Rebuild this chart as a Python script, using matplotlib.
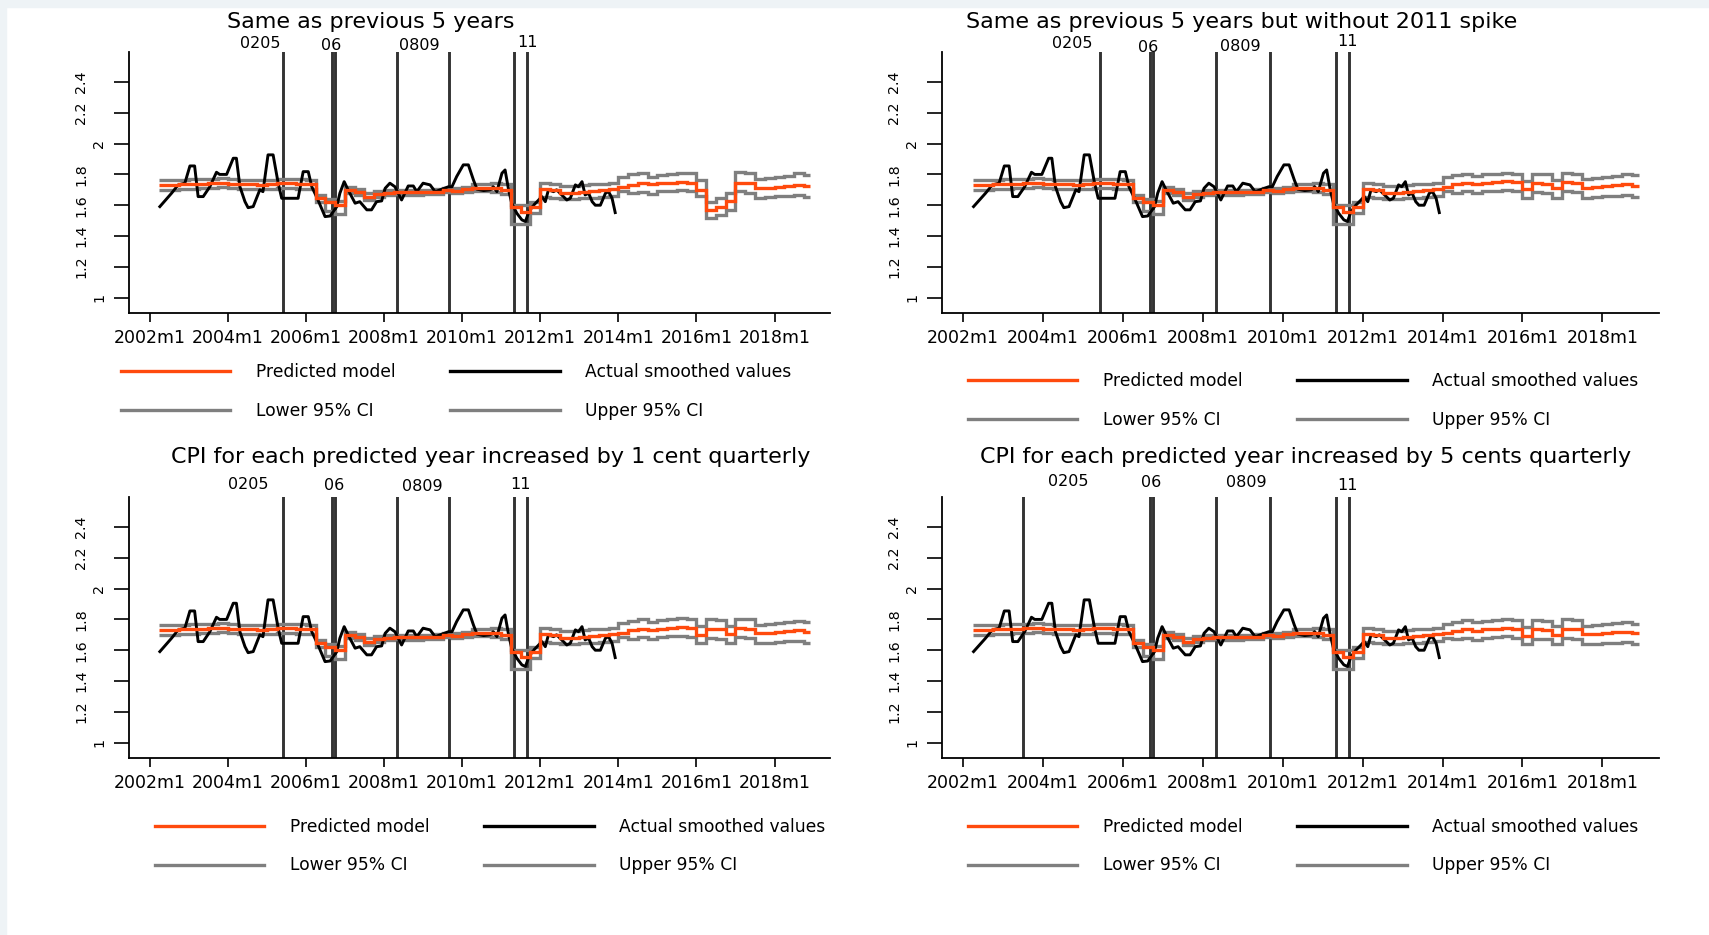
import numpy as np
import matplotlib
matplotlib.use("Agg")
import matplotlib.pyplot as plt
from matplotlib.transforms import offset_copy
from matplotlib.lines import Line2D
from matplotlib.patches import Rectangle

# quarterly grid of the fitted / forecast series (2002q2 .. 2018q4), series end 2018m12
q_start = np.arange(2002.25, 2019.0, 0.25)
q_edges = np.append(q_start, 2018.92)

# in-sample fit, same in all four panels
pred_fit = [1.732, 1.732, 1.735, 1.738, 1.740, 1.742, 1.747, 1.740, 1.735, 1.735, 1.733, 1.735,
            1.742, 1.742, 1.738, 1.735, 1.644, 1.623, 1.600, 1.700, 1.688, 1.656, 1.673, 1.682,
            1.688, 1.684, 1.684, 1.686, 1.688, 1.700, 1.695, 1.703, 1.710, 1.710, 1.710, 1.700,
            1.591, 1.558, 1.590, 1.704, 1.700, 1.680, 1.678, 1.688, 1.695, 1.700, 1.704]
hi_fit = [1.762, 1.762, 1.765, 1.768, 1.770, 1.772, 1.777, 1.770, 1.765, 1.765, 1.763, 1.765,
          1.772, 1.772, 1.768, 1.765, 1.667, 1.639, 1.630, 1.721, 1.705, 1.678, 1.690, 1.698,
          1.702, 1.699, 1.699, 1.701, 1.703, 1.715, 1.712, 1.720, 1.735, 1.738, 1.743, 1.735,
          1.600, 1.600, 1.623, 1.747, 1.740, 1.725, 1.725, 1.732, 1.738, 1.740, 1.743]
lo_fit = [1.702, 1.702, 1.705, 1.708, 1.710, 1.712, 1.717, 1.710, 1.705, 1.705, 1.703, 1.705,
          1.712, 1.712, 1.708, 1.705, 1.623, 1.560, 1.545, 1.678, 1.668, 1.634, 1.655, 1.665,
          1.672, 1.669, 1.669, 1.671, 1.673, 1.685, 1.680, 1.686, 1.690, 1.690, 1.685, 1.672,
          1.480, 1.480, 1.550, 1.655, 1.650, 1.640, 1.638, 1.645, 1.650, 1.655, 1.660]

# forecasts 2014q1 .. 2018q4, one set per scenario
pred_fc = [
    [1.720, 1.732, 1.742, 1.738, 1.742, 1.747, 1.751, 1.747, 1.700, 1.569,
     1.591, 1.625, 1.747, 1.742, 1.710, 1.714, 1.720, 1.725, 1.732, 1.725],
    [1.720, 1.735, 1.745, 1.735, 1.745, 1.750, 1.755, 1.750, 1.705, 1.745,
     1.740, 1.710, 1.750, 1.745, 1.715, 1.720, 1.725, 1.730, 1.735, 1.725],
    [1.715, 1.730, 1.740, 1.730, 1.740, 1.745, 1.750, 1.745, 1.700, 1.740,
     1.735, 1.705, 1.745, 1.740, 1.710, 1.715, 1.720, 1.725, 1.730, 1.720],
    [1.710, 1.725, 1.735, 1.725, 1.735, 1.740, 1.745, 1.740, 1.695, 1.735,
     1.730, 1.700, 1.740, 1.735, 1.705, 1.708, 1.712, 1.716, 1.720, 1.710],
]
hi_fc = [
    [1.786, 1.801, 1.808, 1.782, 1.797, 1.801, 1.812, 1.808, 1.764, 1.623,
     1.645, 1.678, 1.814, 1.808, 1.769, 1.775, 1.786, 1.792, 1.808, 1.797],
    [1.780, 1.795, 1.805, 1.790, 1.800, 1.805, 1.812, 1.805, 1.760, 1.805,
     1.800, 1.765, 1.810, 1.805, 1.770, 1.778, 1.785, 1.790, 1.800, 1.795],
    [1.775, 1.790, 1.800, 1.785, 1.795, 1.800, 1.808, 1.800, 1.755, 1.800,
     1.795, 1.760, 1.805, 1.800, 1.765, 1.772, 1.778, 1.784, 1.792, 1.786],
    [1.770, 1.785, 1.795, 1.780, 1.790, 1.795, 1.802, 1.795, 1.750, 1.795,
     1.790, 1.755, 1.800, 1.795, 1.760, 1.765, 1.770, 1.776, 1.780, 1.771],
]
lo_fc = [
    [1.690, 1.680, 1.685, 1.675, 1.690, 1.695, 1.700, 1.690, 1.660, 1.515,
     1.537, 1.569, 1.690, 1.680, 1.650, 1.655, 1.660, 1.662, 1.665, 1.655],
    [1.690, 1.680, 1.690, 1.678, 1.690, 1.695, 1.700, 1.690, 1.650, 1.685,
     1.680, 1.650, 1.690, 1.685, 1.650, 1.655, 1.658, 1.662, 1.665, 1.655],
    [1.685, 1.675, 1.685, 1.673, 1.685, 1.690, 1.695, 1.685, 1.645, 1.680,
     1.675, 1.645, 1.685, 1.680, 1.645, 1.650, 1.653, 1.657, 1.660, 1.650],
    [1.680, 1.670, 1.680, 1.668, 1.680, 1.685, 1.690, 1.680, 1.640, 1.675,
     1.670, 1.640, 1.680, 1.675, 1.640, 1.643, 1.646, 1.650, 1.652, 1.640],
]

# actual smoothed CPI
act_t = [2002.26, 2002.56, 2002.73, 2002.90, 2003.03, 2003.15, 2003.24, 2003.37, 2003.54, 2003.71,
         2003.79, 2003.97, 2004.14, 2004.22, 2004.31, 2004.44, 2004.52, 2004.65, 2004.82, 2004.90,
         2005.03, 2005.16, 2005.29, 2005.38, 2005.63, 2005.80, 2005.93, 2006.06, 2006.15, 2006.30,
         2006.49, 2006.62, 2006.79, 2006.87, 2006.98, 2007.08, 2007.26, 2007.38, 2007.56, 2007.68,
         2007.81, 2007.94, 2008.03, 2008.15, 2008.28, 2008.45, 2008.62, 2008.75, 2008.84, 2009.00,
         2009.18, 2009.31, 2009.48, 2009.65, 2009.74, 2009.86, 2010.03, 2010.16, 2010.29, 2010.38,
         2010.55, 2010.72, 2010.80, 2010.89, 2011.02, 2011.10, 2011.19, 2011.27, 2011.40, 2011.53,
         2011.62, 2011.71, 2011.83, 2011.96, 2012.04, 2012.13, 2012.21, 2012.34, 2012.42, 2012.55,
         2012.68, 2012.77, 2012.90, 2012.98, 2013.07, 2013.15, 2013.24, 2013.33, 2013.41, 2013.54,
         2013.67, 2013.75, 2013.84, 2013.92]
act_v = [1.591, 1.678, 1.732, 1.743, 1.855, 1.855, 1.656, 1.656, 1.720, 1.814,
         1.800, 1.800, 1.905, 1.905, 1.720, 1.623, 1.584, 1.591, 1.700, 1.688,
         1.927, 1.927, 1.743, 1.645, 1.645, 1.645, 1.818, 1.818, 1.720, 1.640,
         1.526, 1.530, 1.590, 1.678, 1.753, 1.700, 1.613, 1.623, 1.570, 1.570,
         1.623, 1.628, 1.710, 1.743, 1.720, 1.634, 1.725, 1.725, 1.688, 1.743,
         1.732, 1.688, 1.704, 1.720, 1.720, 1.786, 1.862, 1.862, 1.764, 1.704,
         1.695, 1.700, 1.720, 1.688, 1.808, 1.829, 1.700, 1.613, 1.548, 1.505,
         1.494, 1.558, 1.600, 1.634, 1.656, 1.623, 1.700, 1.688, 1.700, 1.667,
         1.634, 1.645, 1.732, 1.720, 1.753, 1.667, 1.678, 1.623, 1.600, 1.600,
         1.678, 1.688, 1.645, 1.552]

# breaks marked by vertical lines
vlines = [
    [2005.42, 2006.67, 2006.75, 2008.33, 2009.67, 2011.33, 2011.67],
    [2005.42, 2006.67, 2006.75, 2008.33, 2009.67, 2011.33, 2011.67],
    [2005.42, 2006.67, 2006.75, 2008.33, 2009.67, 2011.33, 2011.67],
    [2003.50, 2006.67, 2006.75, 2008.33, 2009.67, 2011.33, 2011.67],
]
break_names = ["0205", "06", "0809", "11"]

titles = ["Same as previous 5 years",
          "Same as previous 5 years but without 2011 spike",
          "CPI for each predicted year increased by 1 cent quarterly",
          "CPI for each predicted year increased by 5 cents quarterly"]

xtick_years = list(range(2002, 2019, 2))
xtick_labels = [f"{y}m1" for y in xtick_years]
ytick_vals = [1, 1.2, 1.4, 1.6, 1.8, 2, 2.2, 2.4]
ytick_labels = ["1", "1.2", "1.4", "1.6", "1.8", "2", "2.2", "2.4"]

# ---- layout (pixels of the 1709x935 canvas) ----
W, H = 1709, 935
ax_px = [(129, 52, 830, 313), (942, 52, 1659, 313),
         (129, 497, 830, 758), (942, 497, 1659, 758)]
title_px = [(371, 22), (1242, 22), (491, 457), (1306, 457)]
leg_px = [(121, 374), (968, 383), (155, 829), (968, 829)]
break_pos = [
    [(2004.82, 2.647), (2006.64, 2.634), (2008.90, 2.634), (2011.67, 2.654)],
    [(2004.74, 2.647), (2006.64, 2.621), (2008.94, 2.628), (2011.62, 2.660)],
    [(2004.53, 2.674), (2006.73, 2.670), (2008.98, 2.660), (2011.49, 2.674)],
    [(2004.64, 2.694), (2006.71, 2.687), (2009.09, 2.687), (2011.61, 2.668)],
]

ORANGE = "#ff4a0d"
GRAY = "#7f7f7f"
VCOL = "#333333"

plt.rcParams["font.family"] = ["DejaVu Sans"]

fig = plt.figure(figsize=(W / 100, H / 100), dpi=100)
fig.patches.append(Rectangle((0, 1 - 7 / H), 1, 7 / H, transform=fig.transFigure,
                             color="#eef3f6", zorder=0))
fig.patches.append(Rectangle((0, 0), 6 / W, 1, transform=fig.transFigure,
                             color="#eef3f6", zorder=0))

for i in range(4):
    x0, y0, x1, y1 = ax_px[i]
    ax = fig.add_axes([x0 / W, 1 - y1 / H, (x1 - x0) / W, (y1 - y0) / H])
    ax.set_xlim(2001.47, 2019.42)
    ax.set_ylim(0.90, 2.595)

    pred = pred_fit + pred_fc[i]
    hi = hi_fit + hi_fc[i]
    lo = lo_fit + lo_fc[i]

    for xv in vlines[i]:
        ax.axvline(xv, color=VCOL, lw=2.1, zorder=1)
    ax.stairs(lo, q_edges, baseline=None, color=GRAY, lw=2.4, zorder=2)
    ax.stairs(hi, q_edges, baseline=None, color=GRAY, lw=2.4, zorder=2)
    ax.plot(act_t, act_v, color="black", lw=2.1, zorder=3)
    ax.stairs(pred, q_edges, baseline=None, color=ORANGE, lw=2.4, zorder=4)

    for s in ["top", "right"]:
        ax.spines[s].set_visible(False)
    for s in ["left", "bottom"]:
        ax.spines[s].set_linewidth(1.3)
    ax.set_xticks(xtick_years)
    ax.set_xticklabels(xtick_labels, fontsize=12.5)
    ax.tick_params(axis="x", length=6.5, width=1.2, pad=5)
    ax.set_yticks(ytick_vals)
    ax.tick_params(axis="y", length=10.5, width=1.2, labelleft=False)
    for v, lab in zip(ytick_vals, ytick_labels):
        dx = -30 if "." not in lab else -48
        tr = offset_copy(ax.get_yaxis_transform(), fig=fig, x=dx, y=0, units="dots")
        ax.text(0, v, lab, transform=tr, rotation=90, ha="center", va="center",
                fontsize=10.3, clip_on=False)

    for name, (bx, by) in zip(break_names, break_pos[i]):
        ax.text(bx, by, name, ha="center", va="center", fontsize=11.5, clip_on=False)

    lx, ly = leg_px[i]
    leg_h = [Line2D([], [], color=ORANGE, lw=2.4), Line2D([], [], color=GRAY, lw=2.4),
             Line2D([], [], color="black", lw=2.4), Line2D([], [], color=GRAY, lw=2.4)]
    fig.legend(leg_h, ["Predicted model", "Lower 95% CI", "Actual smoothed values", "Upper 95% CI"],
               ncol=2, loc="upper left", bbox_to_anchor=(lx / W, 1 - (ly - 11) / H),
               frameon=False, fontsize=12.3, handlelength=6.4, handletextpad=1.5,
               columnspacing=3.2, labelspacing=1.2, borderpad=0, borderaxespad=0)

    tx, ty = title_px[i]
    fig.text(tx / W, 1 - ty / H, titles[i], ha="center", va="center", fontsize=16)

fig.savefig("out.png", dpi=100)
